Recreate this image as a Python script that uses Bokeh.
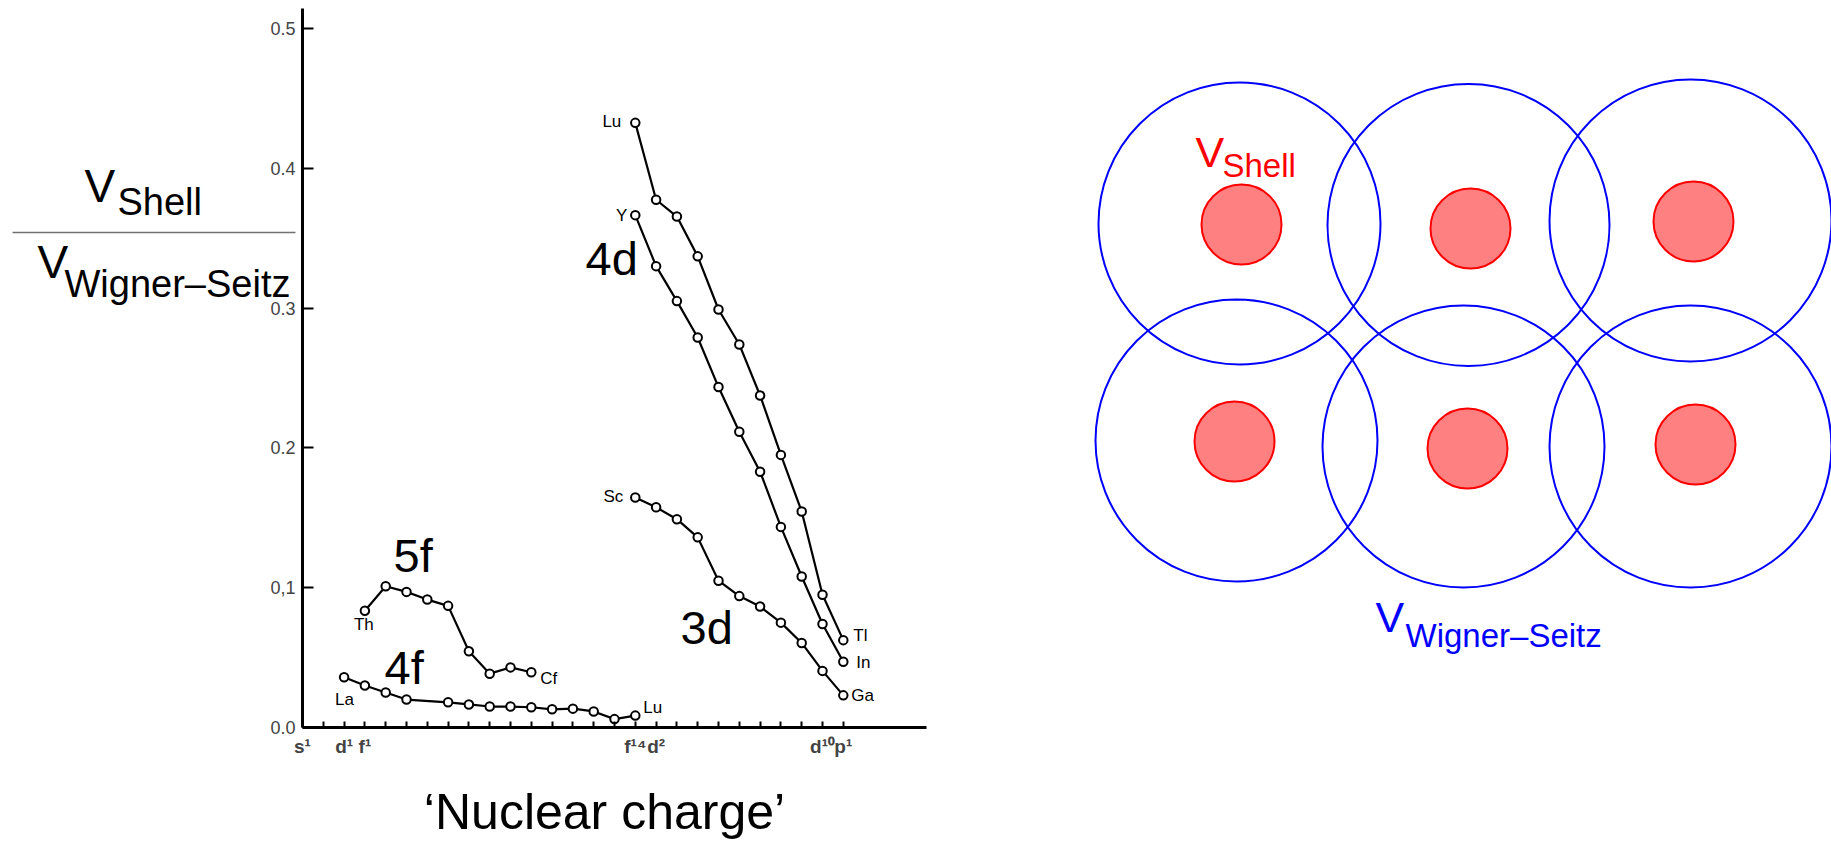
from bokeh.plotting import figure
from bokeh.models import Range1d, LinearAxis, FixedTicker
from bokeh.layouts import row
from bokeh.embed import file_html
from bokeh.resources import INLINE
from bokeh.core.properties import value

FONT = "Liberation Sans"

# ---------------- data : left chart ----------------
# x = position along the filling sequence (s1 ... d10 p1), y = V_Shell / V_Wigner-Seitz
x_ticks = list(range(0, 27))
x_tick_labels = {0: "s¹", 2: "d¹", 3: "f¹", 16: "f¹⁴", 17: "d²", 25: "d¹⁰", 26: "p¹"}
y_ticks = [0.0, 0.1, 0.2, 0.3, 0.4, 0.5]
y_tick_labels = ["0.0", "0,1", "0.2", "0.3", "0.4", "0.5"]

f4_x = [2, 3, 4, 5, 7, 8, 9, 10, 11, 12, 13, 14, 15, 16]
f4_y = [0.036, 0.030, 0.025, 0.020, 0.018, 0.0165, 0.015, 0.015, 0.0145, 0.013, 0.0135, 0.0115, 0.006, 0.0085]

f5_x = [3, 4, 5, 6, 7, 8, 9, 10, 11]
f5_y = [0.0835, 0.101, 0.097, 0.0915, 0.087, 0.0545, 0.0385, 0.043, 0.0395]

d_x = list(range(16, 27))
d3_y = [0.1645, 0.1575, 0.149, 0.136, 0.105, 0.094, 0.0865, 0.075, 0.0605, 0.0405, 0.023]
d4_y = [0.3665, 0.330, 0.305, 0.279, 0.2435, 0.2115, 0.183, 0.1435, 0.108, 0.074, 0.047]
d5_y = [0.4325, 0.3775, 0.3655, 0.337, 0.299, 0.274, 0.2375, 0.195, 0.1545, 0.095, 0.0625]

# ---------------- data : right schematic ----------------
ws_x = [0, 229, 451, -3, 224, 451]
ws_y = [0, -1.5, 3, -217, -223, -223]
ws_r = 141
shell_x = [2, 231, 454, -5, 228, 456]
shell_y = [-1, -5, 2, -218, -225, -221]
shell_r = 40

# ---------------- left figure ----------------
LW, H = 1010, 844
PX_IDX = 20.8      # pixels per sequence step
PX_VAL = 1398.0    # pixels per unit of ratio
X0, Y0 = 302, 727  # canvas position of (0, 0)

p = figure(width=LW, height=H,
           x_range=Range1d(-X0 / PX_IDX, (LW - X0) / PX_IDX),
           y_range=Range1d(-(H - Y0) / PX_VAL, Y0 / PX_VAL),
           x_axis_type=None, y_axis_type=None, min_border=0,
           toolbar_location=None, output_backend="svg")
p.outline_line_color = None


def lx(px):  # page pixel -> data x (for annotations)
    return (px - X0) / PX_IDX


def ly(py):  # page pixel -> data y (for annotations)
    return (Y0 - py) / PX_VAL


def mid(baseline, size):  # visual middle of a text line from its baseline
    return baseline - 0.35 * size


yaxis = LinearAxis(fixed_location=0, bounds=(0, 0.514),
                   ticker=FixedTicker(ticks=y_ticks),
                   major_label_overrides=dict(zip(y_ticks, y_tick_labels)))
yaxis.axis_line_width = 3
yaxis.major_tick_line_width = 2
yaxis.major_tick_in = 11
yaxis.major_tick_out = 0
yaxis.minor_tick_line_color = None
yaxis.major_label_standoff = 7
yaxis.major_label_text_font = FONT
yaxis.major_label_text_font_size = "18px"
p.add_layout(yaxis, "left")

xaxis = LinearAxis(fixed_location=0, bounds=(0, 30),
                   ticker=FixedTicker(ticks=x_ticks),
                   major_label_overrides={t: x_tick_labels.get(t, "") for t in x_ticks})
xaxis.axis_line_width = 3
xaxis.major_tick_line_width = 2
xaxis.major_tick_in = 6
xaxis.major_tick_out = 0
xaxis.minor_tick_line_color = None
xaxis.major_label_standoff = 8
xaxis.major_label_text_font = FONT
xaxis.major_label_text_font_size = "19px"
xaxis.major_label_text_font_style = "bold"
p.add_layout(xaxis, "below")

for xs, ys in [(f4_x, f4_y), (f5_x, f5_y), (d_x, d3_y), (d_x, d4_y), (d_x, d5_y)]:
    p.line(xs, ys, line_color="black", line_width=2.2)
    p.scatter(xs, ys, marker="circle", size=8.5, fill_color="white",
              line_color="black", line_width=2)

# element labels, right of / left of the end points
p.text(x=[d_x[0], d_x[0], d_x[0]], y=[d5_y[0], d4_y[0], d3_y[0]],
       text=["Lu", "Y", "Sc"], x_offset=[-14, -8, -12], y_offset=[-1, 0, -1],
       text_align="right", text_baseline="middle",
       text_font=value(FONT), text_font_size="17px", text_color="black")
p.text(x=[f4_x[0], f5_x[0], f5_x[-1], f4_x[-1], d_x[-1], d_x[-1], d_x[-1]],
       y=[f4_y[0], f5_y[0], f5_y[-1], f4_y[-1], d5_y[-1], d4_y[-1], d3_y[-1]],
       text=["La", "Th", "Cf", "Lu", "Tl", "In", "Ga"],
       x_offset=[-9, -11, 9, 8, 10, 13, 8], y_offset=[22, 14, 6, -8, -5, 1, 0],
       text_align="left", text_baseline="middle",
       text_font=value(FONT), text_font_size="17px", text_color="black")

# series names
BIG = 47
p.text(x=[lx(585), lx(680), lx(393), lx(384)],
       y=[ly(mid(274, BIG)), ly(mid(643, BIG)), ly(mid(571, BIG)), ly(mid(683, BIG))],
       text=["4d", "3d", "5f", "4f"], text_align="left", text_baseline="middle",
       text_font=value(FONT), text_font_size=f"{BIG}px", text_color="black")

# y label as a fraction
p.text(x=[lx(84), lx(37)], y=[ly(mid(202, 46)), ly(mid(278, 46))], text=["V", "V"],
       text_align="left", text_baseline="middle",
       text_font=value(FONT), text_font_size="46px", text_color="black")
p.text(x=[lx(117), lx(64)], y=[ly(mid(215, 38)), ly(mid(297, 38))],
       text=["Shell", "Wigner\u2013Seitz"],
       text_align="left", text_baseline="middle",
       text_font=value(FONT), text_font_size="38px", text_color="black")
p.segment(x0=[lx(12)], y0=[ly(232)], x1=[lx(295)], y1=[ly(232)],
          line_color="#707070", line_width=1.5)

# x label
p.text(x=[lx(604)], y=[ly(mid(829, 50))], text=["\u2018Nuclear charge\u2019"],
       text_align="center", text_baseline="middle",
       text_font=value(FONT), text_font_size="50px", text_color="black")

# ---------------- right figure ----------------
RW = 1831 - LW
CX, CY = 1239, 223          # page position of the schematic origin
q = figure(width=RW, height=H,
           x_range=Range1d(LW - CX, LW + RW - CX), y_range=Range1d(CY - H, CY),
           x_axis_type=None, y_axis_type=None, min_border=0,
           toolbar_location=None, output_backend="svg")
q.outline_line_color = None

q.circle(ws_x, ws_y, radius=ws_r, fill_color=None, line_color="#0000ff", line_width=2)
q.circle(shell_x, shell_y, radius=shell_r, fill_color="#ff8080",
         line_color="#ff0000", line_width=2)


def rx(px):
    return px - CX


def ry(py):
    return CY - py


q.text(x=[rx(1195)], y=[ry(mid(167, 43))], text=["V"], text_align="left",
       text_baseline="middle",
       text_font=value(FONT), text_font_size="43px", text_color="#ff0000")
q.text(x=[rx(1222)], y=[ry(mid(177, 33))], text=["Shell"], text_align="left",
       text_baseline="middle",
       text_font=value(FONT), text_font_size="33px", text_color="#ff0000")
q.text(x=[rx(1375)], y=[ry(mid(632, 43))], text=["V"], text_align="left",
       text_baseline="middle",
       text_font=value(FONT), text_font_size="43px", text_color="#0000ff")
q.text(x=[rx(1405)], y=[ry(mid(647, 33))], text=["Wigner\u2013Seitz"], text_align="left",
       text_baseline="middle",
       text_font=value(FONT), text_font_size="33px", text_color="#0000ff")

layout = row(p, q)
open("out.html", "w").write(file_html(layout, INLINE))
